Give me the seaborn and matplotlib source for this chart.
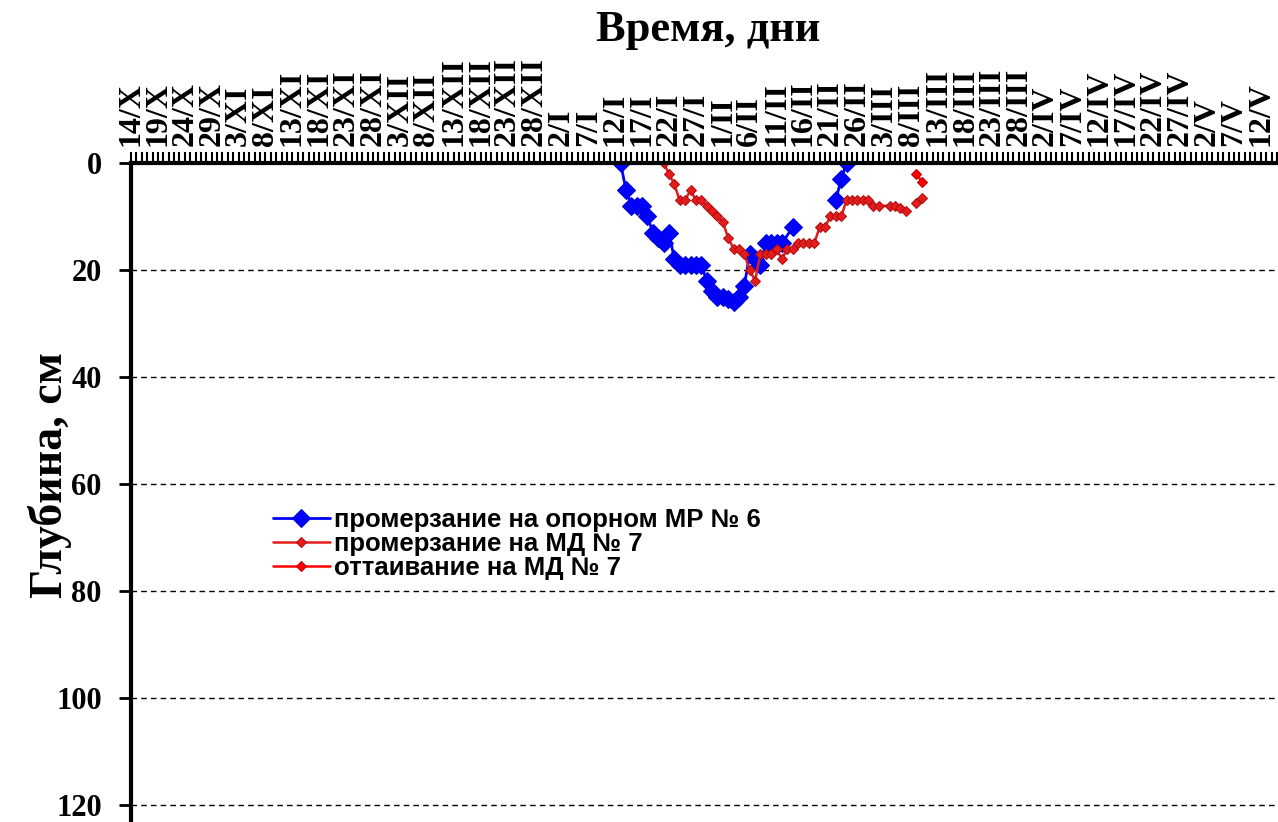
import numpy as np
import pandas as pd
import matplotlib
matplotlib.use('Agg')
import matplotlib.pyplot as plt
import matplotlib.dates as mdates
import seaborn as sns

sns.set_style('white')
plt.rcParams['font.family'] = ['Liberation Serif', 'DejaVu Serif']
plt.rcParams['text.color'] = 'black'
plt.rcParams['xtick.color'] = 'black'
plt.rcParams['ytick.color'] = 'black'

# axis ticks every 5 days from 14 Oct
tick_labels = ['14/X', '19/X', '24/X', '29/X', '3/XI', '8/XI', '13/XI', '18/XI', '23/XI', '28/XI',
               '3/XII', '8/XII', '13/XII', '18/XII', '23/XII', '28/XII', '2/I', '7/I', '12/I', '17/I',
               '22/I', '27/I', '1/II', '6/II', '11/II', '16/II', '21/II', '26/II', '3/III', '8/III',
               '13/III', '18/III', '23/III', '28/III', '2/IV', '7/IV', '12/IV', '17/IV', '22/IV',
               '27/IV', '2/V', '7/V', '12/V']
start_date = '2010-10-14'

# Freezing at reference site MR 6 (segment = continuous run of measurements)
mr6_dates = ['01-13', '01-14', '01-15', '01-16', '01-17', '01-18', '01-19', '01-20', '01-21', '01-22',
             '01-23', '01-24', '01-25', '01-26', '01-27', '01-28', '01-29', '01-30', '01-31', '02-01',
             '02-02', '02-03', '02-04', '02-05', '02-06', '02-07', '02-08', '02-09', '02-10', '02-11',
             '02-12', '02-14', '02-22', '02-23', '02-24']
mr6_depth = [0, 5, 8, 8, 8, 10, 13, 14, 15, 13,
             18, 19, 19, 19, 19, 19, 22, 24, 25, 25,
             25.5, 26, 25, 23, 17, 18, 19, 15, 15, 15,
             15, 12, 7, 3, 0]
mr6_segment = [1] * 32 + [2] * 3

# Freezing at MD 7
md7_dates = ['01-21', '01-22', '01-23', '01-24', '01-25', '01-26', '01-27', '01-28', '01-29', '01-30',
             '01-31', '02-01', '02-02', '02-03', '02-04', '02-05', '02-06', '02-07', '02-08', '02-09',
             '02-10', '02-11', '02-12', '02-13', '02-14', '02-15', '02-16', '02-17', '02-18', '02-19',
             '02-20', '02-21', '02-22', '02-23', '02-24', '02-25', '02-26', '02-27', '02-28', '03-01',
             '03-02', '03-04', '03-05', '03-06', '03-07', '03-09', '03-10']
md7_depth = [0, 2, 4, 7, 7, 5, 7, 7, 8, 9,
             10, 11, 14, 16, 16, 17, 20, 22, 17, 17,
             17, 16, 18, 16, 16, 15, 15, 15, 15, 12,
             12, 10, 10, 10, 7, 7, 7, 7, 7, 8,
             8, 8, 8, 8.5, 9, 7.5, 6.5]
md7_segment = [1] * 45 + [2] * 2

# Thawing at MD 7
thaw_dates = ['03-09', '03-10']
thaw_depth = [2, 3.5]


def to_dates(md):
    out = []
    for s in md:
        year = 2010 if int(s[:2]) >= 10 else 2011
        out.append(pd.Timestamp(f'{year}-{s}'))
    return out


fig = plt.figure(figsize=(12.78, 8.22), dpi=100)
ax = fig.add_axes([131 / 1278, 0, 1147 / 1278, 659 / 822])

sns.lineplot(x=to_dates(mr6_dates), y=mr6_depth, units=mr6_segment, ax=ax, color='#0000FF',
             linewidth=2, marker='D', markersize=9, markeredgecolor='#0000DD',
             estimator=None, sort=False, label='промерзание на опорном МР № 6')
sns.lineplot(x=to_dates(md7_dates), y=md7_depth, units=md7_segment, ax=ax, color='#E41C1C',
             linewidth=1.8, marker='D', markersize=5.2, markeredgecolor='#B01010',
             estimator=None, sort=False, label='промерзание на МД № 7')
sns.lineplot(x=to_dates(thaw_dates), y=thaw_depth, ax=ax, color='#FF0000', linewidth=1.8,
             marker='D', markersize=5.2, markeredgecolor='#C00000', estimator=None, sort=False,
             label='оттаивание на МД № 7')

t0 = pd.Timestamp(start_date)
ticks = pd.date_range(t0, periods=len(tick_labels), freq='5D')
ax.set_xlim(t0, t0 + pd.Timedelta(days=213.2))
ax.set_ylim(123.2, 0)

ax.xaxis.tick_top()
ax.set_xticks(ticks)
ax.set_xticklabels(tick_labels, rotation=90, fontsize=23, fontweight='bold')
ax.xaxis.set_minor_locator(mdates.DayLocator())
ax.tick_params(axis='x', which='both', direction='out', length=8, width=1.5,
               top=True, bottom=False, labeltop=True, labelbottom=False, pad=4)

ax.set_yticks([0, 20, 40, 60, 80, 100, 120])
ax.set_yticklabels(['0', '20', '40', '60', '80', '100', '120'], fontsize=22, fontweight='bold')
ax.tick_params(axis='y', direction='out', length=9, width=2, left=True, pad=12)

ax.set_xlabel('')
ax.set_ylabel('')
for side in ['right', 'bottom']:
    ax.spines[side].set_visible(False)
for side in ['top', 'left']:
    ax.spines[side].set_linewidth(3)
    ax.spines[side].set_color('black')

ax.grid(axis='y', color='black', linestyle=(0, (4, 3)), linewidth=1)
ax.grid(axis='x', visible=False)

fig.text(708 / 1278, 1 - 30 / 822, 'Время, дни', ha='center', va='center',
         fontsize=32, fontweight='bold')
fig.text(50 / 1278, 1 - 475 / 822, 'Глубина, см', ha='center', va='center',
         rotation=90, fontsize=33, fontweight='bold')

# one legend entry per series (units create several line artists)
handles, labels = ax.get_legend_handles_labels()
seen = {}
for h, l in zip(handles, labels):
    if l not in seen:
        seen[l] = h
ax.legend(list(seen.values()), list(seen.keys()), loc='upper left',
          bbox_to_anchor=(0.124, 0.476), frameon=False,
          prop={'family': ['Liberation Sans', 'DejaVu Sans'], 'weight': 'bold', 'size': 18.5},
          handlelength=2.2, handletextpad=0.15, labelspacing=0.0, borderpad=0, borderaxespad=0)

plt.savefig('out.png', dpi=100)
plt.close()
